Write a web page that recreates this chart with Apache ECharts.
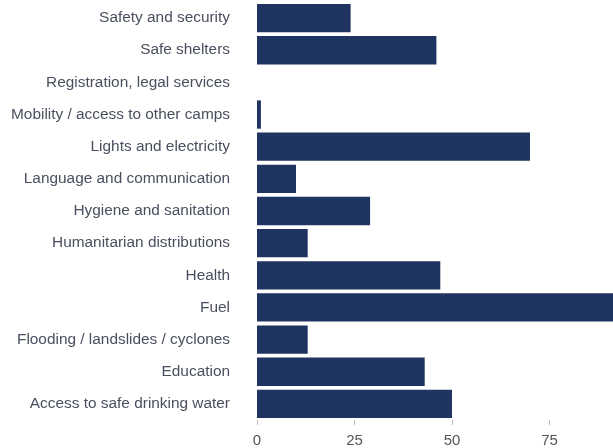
<!DOCTYPE html>
<html>
<head>
<meta charset="utf-8">
<script src="https://cdn.jsdelivr.net/npm/echarts@6/dist/echarts.min.js"></script>
<style>
  html, body { margin: 0; padding: 0; background: #fff; overflow: hidden; }
  /* the original picture is cropped on the right: the axis runs on past 75 to 100 */
  #chart { width: 647px; height: 448px; }
</style>
</head>
<body>
<div id="chart"></div>
<script>
// categories listed bottom-to-top (category axis starts at the bottom)
var categories = [
    'Access to safe drinking water',
    'Education',
    'Flooding / landslides / cyclones',
    'Fuel',
    'Health',
    'Humanitarian distributions',
    'Hygiene and sanitation',
    'Language and communication',
    'Lights and electricity',
    'Mobility / access to other camps',
    'Registration, legal services',
    'Safe shelters',
    'Safety and security'
];
var values = [50, 43, 13, 95, 47, 13, 29, 10, 70, 1, 0, 46, 24];
var tickValues = [0, 25, 50, 75, 100];

var myChart = echarts.init(document.getElementById('chart'));
var option = {
    animation: false,
    textStyle: {
        fontFamily: 'Liberation Sans, Arial, sans-serif'
    },
    grid: {
        left: 257,
        right: 0,
        top: 2,
        bottom: 28,
        outerBoundsMode: 'none'
    },
    xAxis: {
        type: 'value',
        min: tickValues[0],
        max: tickValues[tickValues.length - 1],
        interval: 25,
        axisLine: { show: false },
        axisTick: {
            show: true,
            length: 5,
            lineStyle: { color: '#bbb' }
        },
        splitLine: { show: false },
        axisLabel: {
            color: '#555',
            fontSize: 15,
            margin: 13
        }
    },
    yAxis: {
        type: 'category',
        data: categories,
        axisLine: { show: false },
        axisTick: { show: false },
        axisLabel: {
            color: '#4a4f60',
            fontSize: 15.4,
            margin: 27
        }
    },
    series: [{
        type: 'bar',
        data: values,
        barCategoryGap: '12%',
        itemStyle: { color: '#1f3461' }
    }]
};
myChart.setOption(option);
</script>
</body>
</html>
